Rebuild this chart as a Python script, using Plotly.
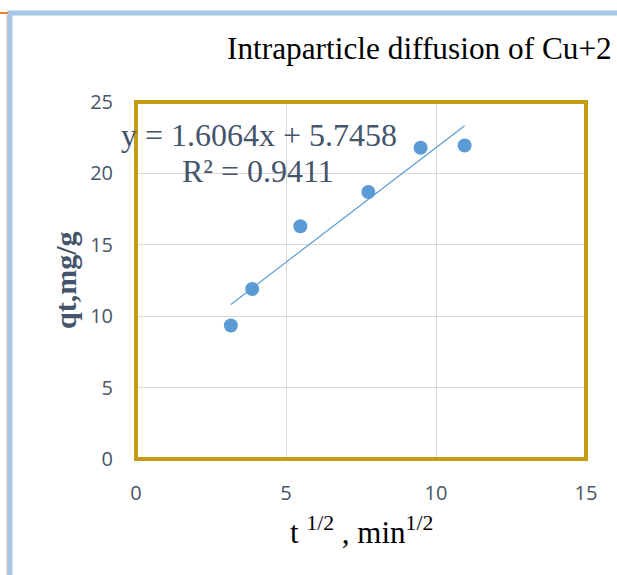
import numpy as np
import plotly.graph_objects as go

# Intraparticle diffusion data: square root of contact time vs uptake
time_min = [10, 15, 30, 60, 90, 120]
t_sqrt = [float(np.sqrt(t)) for t in time_min]
qt = [9.35, 11.9, 16.3, 18.7, 21.8, 21.95]

# Linear trend line reported on the chart
slope = 1.6064
intercept = 5.7458
r2 = 0.9411

x_ticks = [0, 5, 10, 15]
y_ticks = [0, 5, 10, 15, 20, 25]

W, H = 617, 575
L, R, T, B = 136, 31, 102, 116
pw, ph = W - L - R, H - T - B


def px(x):
    return (x - L) / pw


def py(y):
    return (H - B - y) / ph


fig = go.Figure()

fig.add_trace(go.Scatter(
    x=t_sqrt, y=qt, mode="markers",
    marker=dict(color="#5b9bd5", size=14, line=dict(width=0)),
    showlegend=False, hoverinfo="skip",
))

trend_x = [min(t_sqrt), max(t_sqrt)]
trend_y = [slope * x + intercept for x in trend_x]
fig.add_trace(go.Scatter(
    x=trend_x, y=trend_y, mode="lines",
    line=dict(color="#5b9bd5", width=1.2),
    showlegend=False, hoverinfo="skip",
))

tick_font = dict(family="Open Sans, Noto Sans, sans-serif", size=20, color="#4a5568")

fig.update_xaxes(
    range=[0, 15], tickvals=x_ticks, showgrid=True, gridcolor="#d9d9d9",
    gridwidth=1, zeroline=False, showline=False, ticks="",
    tickfont=tick_font, ticklabelstandoff=20,
)
fig.update_yaxes(
    range=[0, 25], tickvals=y_ticks, showgrid=True, gridcolor="#d9d9d9",
    gridwidth=1, zeroline=False, showline=False, ticks="",
    tickfont=tick_font, ticklabelstandoff=22,
)

serif = "Liberation Serif, Times New Roman, serif"
annotations = [
    dict(text="Intraparticle diffusion of Cu+2", x=px(225), y=py(48),
         xanchor="left", yanchor="middle",
         font=dict(family=serif, size=31.3, color="#000000")),
    dict(text=f"y = {slope}x + {intercept}", x=px(259), y=py(135),
         xanchor="center", yanchor="middle",
         font=dict(family=serif, size=32, color="#44546a")),
    dict(text=f"R² = {r2}", x=px(258), y=py(171),
         xanchor="center", yanchor="middle",
         font=dict(family=serif, size=32, color="#44546a")),
    dict(text="<b>qt,mg/g</b>", x=px(65), y=py(280), textangle=-90,
         xanchor="center", yanchor="middle",
         font=dict(family=serif, size=30, color="#44546a")),
    dict(text="t <sup>1/2</sup> , min<sup>1/2</sup>", x=px(361), y=py(530),
         xanchor="center", yanchor="middle",
         font=dict(family=serif, size=31, color="#000000")),
]
for a in annotations:
    a.update(xref="paper", yref="paper", showarrow=False)

shapes = [
    # outer chart frame
    dict(type="rect", xref="paper", yref="paper",
         x0=px(10), x1=px(700), y0=py(700), y1=py(13),
         line=dict(color="#a7c7e7", width=5), layer="below"),
    dict(type="line", xref="paper", yref="paper",
         x0=px(7), x1=px(7), y0=py(700), y1=py(15),
         line=dict(color="#b8b8b8", width=1)),
    dict(type="line", xref="paper", yref="paper",
         x0=px(0), x1=px(8), y0=py(13), y1=py(13),
         line=dict(color="#ed7d31", width=2)),
    # plot area frame
    dict(type="rect", xref="paper", yref="paper",
         x0=0, x1=1, y0=0, y1=1,
         line=dict(color="#c59b12", width=4), layer="above"),
]

fig.update_layout(
    width=W, height=H,
    margin=dict(l=L, r=R, t=T, b=B),
    paper_bgcolor="white", plot_bgcolor="white",
    annotations=annotations, shapes=shapes,
    showlegend=False,
)

fig.write_html("out.html")
